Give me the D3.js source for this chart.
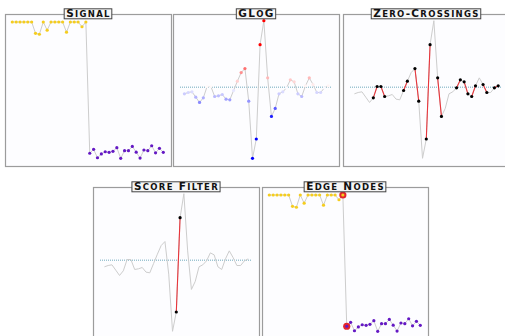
<!DOCTYPE html>
<html>
<head>
<meta http-equiv="Content-type" content="text/html; charset=utf-8">
<title>GLoG edge nodes</title>
<script src="https://cdn.jsdelivr.net/npm/d3@7"></script>
<style>
  body { margin: 0; background: #fff; }
  svg { display: block; }
</style>
</head>
<body>
<svg id="chart" width="505" height="336"></svg>
<script>

// DATA
var titles = ["Signal", "GLoG", "Zero-Crossings", "Score Filter", "Edge Nodes"];

var signal = [1, 1, 1, 1, 1, 1, 0.917, 0.91, 1, 0.94,
              1, 1, 1, 1, 0.925, 1, 1, 1, 0.965, 1,
              0.037, 0.066, 0.004, 0.032, 0.048, 0.044, 0.051, 0.078, 0.0, 0.056,
              0.056, 0.087, 0.045, 0.002, 0.061, 0.056, 0.092, 0.04, 0.073, 0.044];

var glog = [-0.10, -0.08, -0.07, -0.15, -0.23, -0.16, 0.01, 0.01, -0.14, -0.13,
            -0.11, -0.18, -0.19, -0.05, 0.09, 0.22, 0.28, -0.21, -1.07, -0.78,
            0.64, 1.00, 0.14, -0.44, -0.32, -0.10, -0.07, -0.01, 0.11, 0.08,
            -0.10, -0.14, 0.02, 0.14, 0.04, -0.08, -0.08, -0.01, 0.02];

// LAYOUT
var panelW = 166, panelH = 152;
var layout = [[5, 14], [173, 14], [343, 14], [93, 187], [262, 187]];

var svg = d3.select("#chart");

var xSig = d3.scaleLinear().domain([0, signal.length - 1]).range([7.3, 158.3]);
var ySig = d3.scaleLinear().domain([0, 1]).range([144.3, 8]);
var xG = d3.scaleLinear().domain([0, glog.length - 1]).range([11.4, 155.2]);
var yG = d3.scaleLinear().domain(d3.extent(glog)).range([144.3, 6.7]);
var gColor = d3.scaleLinear().domain([-0.5, 0, 0.5]).range(["#0000ff", "#ffffff", "#ff0000"]).clamp(true);

function sigColor(v) { return v > 0.5 ? "#f5cd1e" : "#6418c4"; }

// zero crossings = sign change between neighbours
var crossings = [];
for (var i = 0; i < glog.length - 1; i++) {
  if ((glog[i] < 0) !== (glog[i + 1] < 0)) crossings.push([i, i + 1]);
}
// score filter keeps the strongest one
var best = crossings.reduce(function (a, b) {
  return Math.abs(glog[b[1]] - glog[b[0]]) > Math.abs(glog[a[1]] - glog[a[0]]) ? b : a;
});

var sigLine = d3.line().x(function (d, i) { return xSig(i); }).y(function (d) { return ySig(d); });
var gLine = d3.line().x(function (d, i) { return xG(i); }).y(function (d) { return yG(d); });

function makePanel(k) {
  var g = svg.append("g").attr("transform", "translate(" + layout[k][0] + "," + layout[k][1] + ")");
  g.append("rect")
    .attr("x", 0.5).attr("y", 0.5)
    .attr("width", panelW).attr("height", panelH)
    .attr("fill", "#fdfdff")
    .attr("stroke", "#9c9c9c")
    .attr("stroke-width", 1.2);
  return g;
}

function addTitle(g, label) {
  var t = g.append("text")
    .attr("x", panelW / 2 + 0.5)
    .attr("y", 3.2)
    .attr("text-anchor", "middle")
    .attr("font-family", "'DejaVu Sans', sans-serif")
    .attr("font-weight", "bold")
    .attr("letter-spacing", "1.3px")
    .attr("fill", "#111");
  // fake small caps: lower case letters drawn as smaller capitals
  var runs = [];
  label.split("").forEach(function (c) {
    var small = c !== c.toUpperCase();
    if (runs.length && runs[runs.length - 1].small === small) runs[runs.length - 1].s += c;
    else runs.push({ small: small, s: c });
  });
  runs.forEach(function (r) {
    t.append("tspan")
      .attr("font-size", r.small ? 8.5 : 10.5)
      .text(r.s.toUpperCase());
  });
  var bb = t.node().getBBox();
  g.insert("rect", function () { return t.node(); })
    .attr("x", bb.x - 2).attr("y", -5.2)
    .attr("width", bb.width + 3).attr("height", 10)
    .attr("fill", "#f6f6f6")
    .attr("stroke", "#444")
    .attr("stroke-width", 1);
}

function zeroLine(g) {
  g.append("line")
    .attr("x1", 7).attr("x2", 159)
    .attr("y1", yG(0)).attr("y2", yG(0))
    .attr("stroke", "#6fa9bd")
    .attr("stroke-width", 1)
    .attr("stroke-dasharray", "1,1");
}

function greyPath(g, data, line) {
  g.append("path")
    .datum(data)
    .attr("d", line)
    .attr("fill", "none")
    .attr("stroke", "#cdcdcd")
    .attr("stroke-width", 1);
}

function signalDots(g) {
  g.selectAll(".sd")
    .data(signal)
    .enter().append("circle")
    .attr("class", "sd")
    .attr("cx", function (d, i) { return xSig(i); })
    .attr("cy", function (d) { return ySig(d); })
    .attr("r", 1.6)
    .attr("fill", sigColor);
}

function crossingMarks(g, list) {
  g.selectAll(".seg")
    .data(list)
    .enter().append("line")
    .attr("class", "seg")
    .attr("x1", function (d) { return xG(d[0]); })
    .attr("y1", function (d) { return yG(glog[d[0]]); })
    .attr("x2", function (d) { return xG(d[1]); })
    .attr("y2", function (d) { return yG(glog[d[1]]); })
    .attr("stroke", "#e8353b")
    .attr("stroke-width", 1.1);
  var idx = [];
  list.forEach(function (p) { idx.push(p[0], p[1]); });
  g.selectAll(".cd")
    .data(idx)
    .enter().append("circle")
    .attr("class", "cd")
    .attr("cx", function (d) { return xG(d); })
    .attr("cy", function (d) { return yG(glog[d]); })
    .attr("r", 1.6)
    .attr("fill", "#000");
}

// 1. Signal
var p = makePanel(0);
greyPath(p, signal, sigLine);
signalDots(p);
addTitle(p, titles[0]);

// 2. GLoG
p = makePanel(1);
zeroLine(p);
greyPath(p, glog, gLine);
p.selectAll(".gd")
  .data(glog)
  .enter().append("circle")
  .attr("class", "gd")
  .attr("cx", function (d, i) { return xG(i); })
  .attr("cy", function (d) { return yG(d); })
  .attr("r", 1.6)
  .attr("fill", function (d) { return gColor(d); });
addTitle(p, titles[1]);

// 3. Zero-Crossings
p = makePanel(2);
zeroLine(p);
greyPath(p, glog, gLine);
crossingMarks(p, crossings);
addTitle(p, titles[2]);

// 4. Score Filter
p = makePanel(3);
zeroLine(p);
greyPath(p, glog, gLine);
crossingMarks(p, [best]);
addTitle(p, titles[3]);

// 5. Edge Nodes
p = makePanel(4);
greyPath(p, signal, sigLine);
p.selectAll(".ring")
  .data(best)
  .enter().append("circle")
  .attr("class", "ring")
  .attr("cx", function (d) { return xSig(d); })
  .attr("cy", function (d) { return ySig(signal[d]); })
  .attr("r", 3.6)
  .attr("fill", "#e3262d");
signalDots(p);
addTitle(p, titles[4]);

</script>
</body>
</html>
